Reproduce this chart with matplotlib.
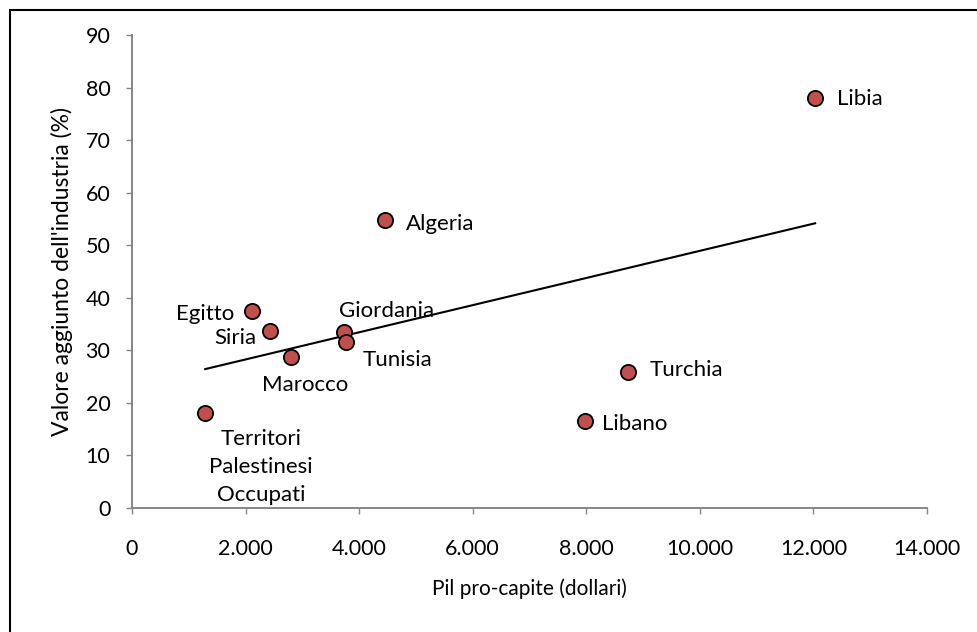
import numpy as np
import matplotlib
matplotlib.use('Agg')
import matplotlib.pyplot as plt
import matplotlib.patches as patches
from matplotlib.ticker import FuncFormatter

plt.rcParams['font.family'] = ['Lato', 'DejaVu Sans']

paesi = ['Libia', 'Algeria', 'Egitto', 'Siria', 'Giordania', 'Tunisia',
         'Marocco', 'Territori\nPalestinesi\nOccupati', 'Turchia', 'Libano']
pil = [12030, 4450, 2110, 2430, 3730, 3770, 2800, 1290, 8730, 7980]
valore = [78.0, 54.8, 37.5, 33.7, 33.5, 31.6, 28.7, 18.1, 25.9, 16.6]

# label offsets in points (dx, dy) and horizontal alignment
offs = [(16, -1, 'left'), (15, -3, 'left'), (-13, -2, 'right'), (-10, -5, 'right'),
        (31, 15, 'center'), (12, -13, 'left'), (10, -20, 'center'),
        (40, -39, 'center'), (16, 1, 'left'), (12, -2, 'left')]

grey = '#868686'

fig = plt.figure(figsize=(9.77, 6.32), dpi=100)
ax = fig.add_axes([132/977, 1 - 508/632, (927-132)/977, (508-35)/632])

ax.scatter(pil, valore, s=120, color='#C0504D', edgecolors='black',
           linewidths=1.3, zorder=3)

# linear trend over the data range
m, q = np.polyfit(pil, valore, 1)
xs = np.array([min(pil), max(pil)])
ax.plot(xs, m*xs + q, color='black', lw=1.5, zorder=2)

for name, x, y, (dx, dy, ha) in zip(paesi, pil, valore, offs):
    ax.annotate(name, (x, y), xytext=(dx, dy), textcoords='offset points',
                ha=ha, va='center', fontsize=16, linespacing=1.5)

ax.set_xlim(0, 14000)
ax.set_ylim(0, 90)
ax.set_xticks(np.arange(0, 14001, 2000))
ax.set_yticks(np.arange(0, 91, 10))
ax.xaxis.set_major_formatter(FuncFormatter(lambda v, p: f'{int(v):,}'.replace(',', '.')))

for s in ['top', 'right']:
    ax.spines[s].set_visible(False)
for s in ['left', 'bottom']:
    ax.spines[s].set_color(grey)
    ax.spines[s].set_linewidth(1.4)
ax.tick_params(axis='both', direction='out', length=4.5, width=1, color=grey,
               labelsize=15.5)
ax.tick_params(axis='y', pad=11)
ax.tick_params(axis='x', pad=18)

ax.set_xlabel('Pil pro-capite (dollari)', fontsize=15, labelpad=14)
ax.set_ylabel("Valore aggiunto dell'industria (%)", fontsize=16.5, labelpad=9)

fig.patches.append(patches.Rectangle((10/977, -0.1), 1.2, 1.1 - 10/632,
                                     transform=fig.transFigure, fill=False,
                                     edgecolor='black', lw=1.5))

fig.savefig('out.png', dpi=100)
